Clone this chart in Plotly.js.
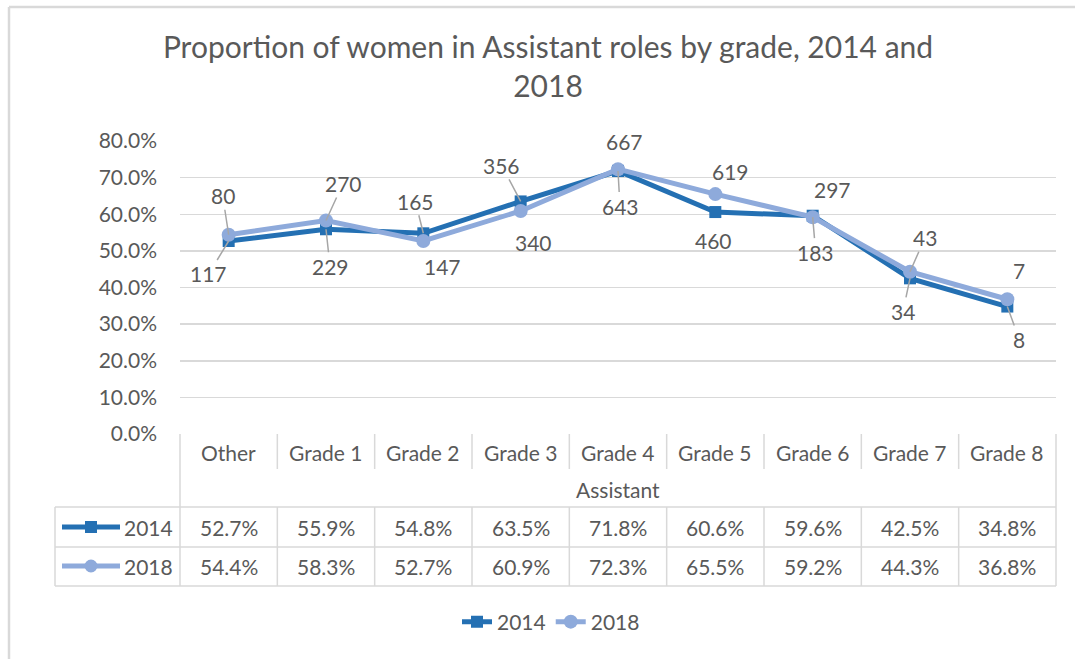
<!DOCTYPE html>
<html>
<head>
<meta charset="utf-8">
<script src="https://cdn.plot.ly/plotly-3.0.1.min.js"></script>
<style>
  html, body { margin: 0; padding: 0; background: #ffffff; }
  #chart { width: 1075px; height: 659px; }
</style>
</head>
<body>
<div id="chart"></div>
<script>
// ---------- DATA ----------
const categories = ["Other", "Grade 1", "Grade 2", "Grade 3", "Grade 4", "Grade 5", "Grade 6", "Grade 7", "Grade 8"];
const groupLabel = "Assistant";
const seriesNames = ["2014", "2018"];
const pct2014 = [52.7, 55.9, 54.8, 63.5, 71.8, 60.6, 59.6, 42.5, 34.8];
const pct2018 = [54.4, 58.3, 52.7, 60.9, 72.3, 65.5, 59.2, 44.3, 36.8];
const count2014 = [117, 229, 165, 356, 643, 460, 297, 34, 8];
const count2018 = [80, 270, 147, 340, 667, 619, 183, 43, 7];
const yTickVals = [0, 10, 20, 30, 40, 50, 60, 70, 80];

// ---------- STYLE ----------
const FONT = "Lato, 'Open Sans', sans-serif";
const GREY = "#595959";
const LINEGREY = "#d9d9d9";
const LEADER = "#a6a6a6";
const C2014 = "#2470b3";
const C2018 = "#8eaadb";
const W = 1075, H = 659;
const M = {l: 180, r: 19, t: 141, b: 225};
const PW = W - M.l - M.r, PH = H - M.t - M.b;
const px = v => (v - M.l) / PW;          // pixel x -> paper x
const py = v => (H - M.b - v) / PH;      // pixel y -> paper y

// label offsets [ax, ay] and whether a leader line is shown
const off2014 = [[-20, 33, 1], [4, 37, 1], [-8, -32, 1], [-19, -36, 1], [2, 35, 1], [-2, 28, 0], [20, -26, 0], [-7, 33, 1], [12, 33, 1]];
const off2018 = [[-6, -39, 1], [17, -37, 1], [19, 26, 0], [13, 32, 0], [6, -28, 0], [15, -23, 0], [3, 35, 1], [15, -34, 1], [12, -29, 0]];

const traces = [
  {
    x: categories, y: pct2014, name: seriesNames[0], type: "scatter", mode: "lines+markers",
    line: {color: C2014, width: 5}, marker: {symbol: "square", size: 12, color: C2014},
    hoverinfo: "skip"
  },
  {
    x: categories, y: pct2018, name: seriesNames[1], type: "scatter", mode: "lines+markers",
    line: {color: C2018, width: 5}, marker: {symbol: "circle", size: 14, color: C2018},
    hoverinfo: "skip"
  }
];

const annotations = [];
const shapes = [];
const tf = {family: FONT, size: 21, color: GREY};

function addLabels(vals, counts, offs) {
  vals.forEach((v, i) => {
    annotations.push({
      x: categories[i], y: v, xref: "x", yref: "y",
      text: String(counts[i]), showarrow: true,
      ax: offs[i][0], ay: offs[i][1], arrowhead: 0, arrowwidth: 1.5,
      arrowcolor: offs[i][2] ? LEADER : "rgba(0,0,0,0)", standoff: 0,
      font: tf
    });
  });
}
addLabels(pct2014, count2014, off2014);
addLabels(pct2018, count2018, off2018);

// ---------- DATA TABLE ----------
const rowCat = 452, rowGrp = 489, row14 = 527, row18 = 566;
function cell(x, xref, yPix, text, xanchor) {
  annotations.push({x: x, y: py(yPix), xref: xref, yref: "paper", text: text, showarrow: false,
    xanchor: xanchor || "center", yanchor: "middle", font: tf});
}
categories.forEach((c, i) => {
  cell(i, "x", rowCat, c);
  cell(i, "x", row14, pct2014[i].toFixed(1) + "%");
  cell(i, "x", row18, pct2018[i].toFixed(1) + "%");
});
cell(0.5, "paper", rowGrp, groupLabel);
cell(px(175), "paper", row14, seriesNames[0], "right");
cell(px(175), "paper", row18, seriesNames[1], "right");

const ln = (x0, y0, x1, y1, xref) => ({type: "line", xref: xref || "paper", yref: "paper",
  x0: x0, y0: y0, x1: x1, y1: y1, line: {color: LINEGREY, width: 1.5}, layer: "below"});
// outer borders
shapes.push(ln(px(180), py(434), px(180), py(586)));
shapes.push(ln(px(1056), py(434), px(1056), py(586)));
shapes.push(ln(px(55), py(507), px(55), py(586)));
shapes.push(ln(px(55), py(507), px(1056), py(507)));
shapes.push(ln(px(55), py(547), px(1056), py(547)));
shapes.push(ln(px(55), py(586), px(1056), py(586)));
// column separators
for (let i = 0; i < categories.length - 1; i++) {
  shapes.push(ln(i + 0.5, py(434), i + 0.5, py(469), "x"));
  shapes.push(ln(i + 0.5, py(507), i + 0.5, py(586), "x"));
}
// legend keys inside table
shapes.push({type: "line", xref: "paper", yref: "paper", x0: px(62), x1: px(120), y0: py(row14), y1: py(row14),
  line: {color: C2014, width: 5}});
shapes.push({type: "rect", xref: "paper", yref: "paper", x0: px(85), x1: px(97), y0: py(row14 - 6), y1: py(row14 + 6),
  fillcolor: C2014, line: {width: 0}});
shapes.push({type: "line", xref: "paper", yref: "paper", x0: px(62), x1: px(120), y0: py(row18), y1: py(row18),
  line: {color: C2018, width: 5}});
shapes.push({type: "circle", xref: "paper", yref: "paper", x0: px(84.5), x1: px(97.5), y0: py(row18 - 6.5), y1: py(row18 + 6.5),
  fillcolor: C2018, line: {width: 0}});
// chart frame (left and top edges)
shapes.push({type: "line", xref: "paper", yref: "paper", x0: px(9), x1: px(9), y0: py(7), y1: py(H),
  line: {color: LINEGREY, width: 2.5}});
shapes.push({type: "line", xref: "paper", yref: "paper", x0: px(9), x1: px(W), y0: py(7), y1: py(7),
  line: {color: LINEGREY, width: 2.5}});

const layout = {
  width: W, height: H,
  margin: M,
  paper_bgcolor: "#ffffff", plot_bgcolor: "#ffffff",
  font: tf,
  title: {
    text: "Proportion of women in Assistant roles by grade, 2014 and<br>2018",
    font: {family: FONT, size: 30, color: GREY},
    xref: "container", x: 548 / W, xanchor: "center",
    yref: "container", y: 1 - 58 / H, yanchor: "top"
  },
  xaxis: {
    type: "category", range: [-0.5, categories.length - 0.5],
    showticklabels: false, showgrid: false, zeroline: false, showline: false, ticks: "",
    fixedrange: true
  },
  yaxis: {
    range: [0, 80], tickvals: yTickVals, ticktext: yTickVals.map(v => v.toFixed(1) + "%"),
    showgrid: true, gridcolor: LINEGREY, gridwidth: 1.5, zeroline: false, showline: false,
    ticks: "", ticklabelstandoff: 22,
    tickfont: tf, fixedrange: true
  },
  showlegend: true,
  legend: {
    orientation: "h", x: px(551), xanchor: "center", y: py(622), yanchor: "middle",
    font: tf, bgcolor: "rgba(0,0,0,0)"
  },
  annotations: annotations,
  shapes: shapes
};

Plotly.newPlot("chart", traces, layout, {displayModeBar: false, staticPlot: true});
</script>
</body>
</html>
